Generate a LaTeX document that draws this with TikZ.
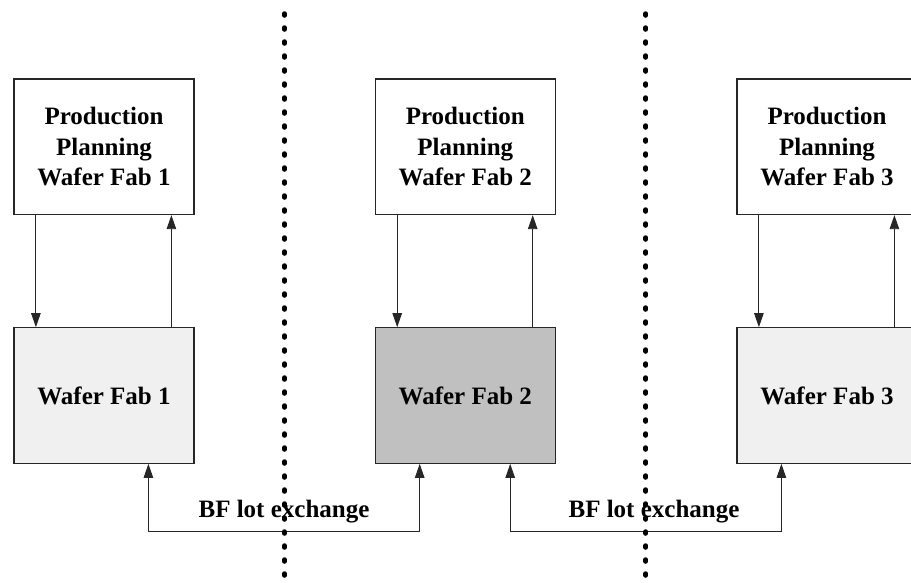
\documentclass[tikz,border=0pt]{standalone}
\usepackage{fontspec}
\setmainfont{Liberation Serif}
\usetikzlibrary{arrows.meta}
\definecolor{lightfill}{HTML}{F0F0F0}
\definecolor{darkfill}{HTML}{C0C0C0}
\begin{document}
\begin{tikzpicture}[x=1pt,y=-1pt,
  fabbox/.style={draw=black!85, line width=1.2pt, minimum width=180pt, minimum height=135.5pt,
    inner sep=0pt, align=center, font=\bfseries\fontsize{25}{30.5}\selectfont},
  conn/.style={draw=black!85, line width=0.9pt, -{Triangle[length=14pt,width=9.5pt]}},
  conn2/.style={draw=black!85, line width=0.9pt, {Triangle[length=14pt,width=9.5pt]}-{Triangle[length=14pt,width=9.5pt]}},
  lab/.style={font=\bfseries\fontsize{25}{30}\selectfont, inner sep=0pt, anchor=base},
  dotline/.style={line width=4.5pt, line cap=round, dash pattern=on 2pt off 12pt}
]
\useasboundingbox (0,0) rectangle (911,582);
\fill[white] (0,0) rectangle (911,582);

% top boxes
\node[fabbox, fill=white] (pp1) at (104,146.8) {Production\\Planning\\Wafer Fab 1};
\node[fabbox, fill=white] (pp2) at (465.3,146.8) {Production\\Planning\\Wafer Fab 2};
\node[fabbox, fill=white] (pp3) at (827,146.8) {Production\\Planning\\Wafer Fab 3};

% bottom boxes
\node[fabbox, fill=lightfill] (wf1) at (104,395.5) {Wafer Fab 1};
\node[fabbox, fill=darkfill] (wf2) at (465.3,395.5) {Wafer Fab 2};
\node[fabbox, fill=lightfill] (wf3) at (827,395.5) {Wafer Fab 3};

% vertical arrows
\foreach \i in {1,2,3}{
  \draw[conn] ([xshift=22.5pt]pp\i.south west) -- ([xshift=22.5pt]wf\i.north west);
  \draw[conn] ([xshift=158pt]wf\i.north west) -- ([xshift=158pt]pp\i.south west);
}

% BF lot exchange connectors
\draw[conn2] ([xshift=135pt]wf1.south west) -- ++(0,67.5) -| ([xshift=45pt]wf2.south west);
\draw[conn2] ([xshift=135.5pt]wf2.south west) -- ++(0,67.5) -| ([xshift=45pt]wf3.south west);

\node[lab] (l1) at (284,517) {BF lot exchange};
\node[lab] (l2) at (654,517) {BF lot exchange};

% dotted separators
\coordinate (s1t) at (284.5,13.5);
\coordinate (s1b) at (284.5,577);
\coordinate (s2t) at (645.7,13.5);
\coordinate (s2b) at (645.7,577);
\draw[dotline] (s1t) -- (s1b);
\draw[dotline] (s2t) -- (s2b);
\end{tikzpicture}
\end{document}
